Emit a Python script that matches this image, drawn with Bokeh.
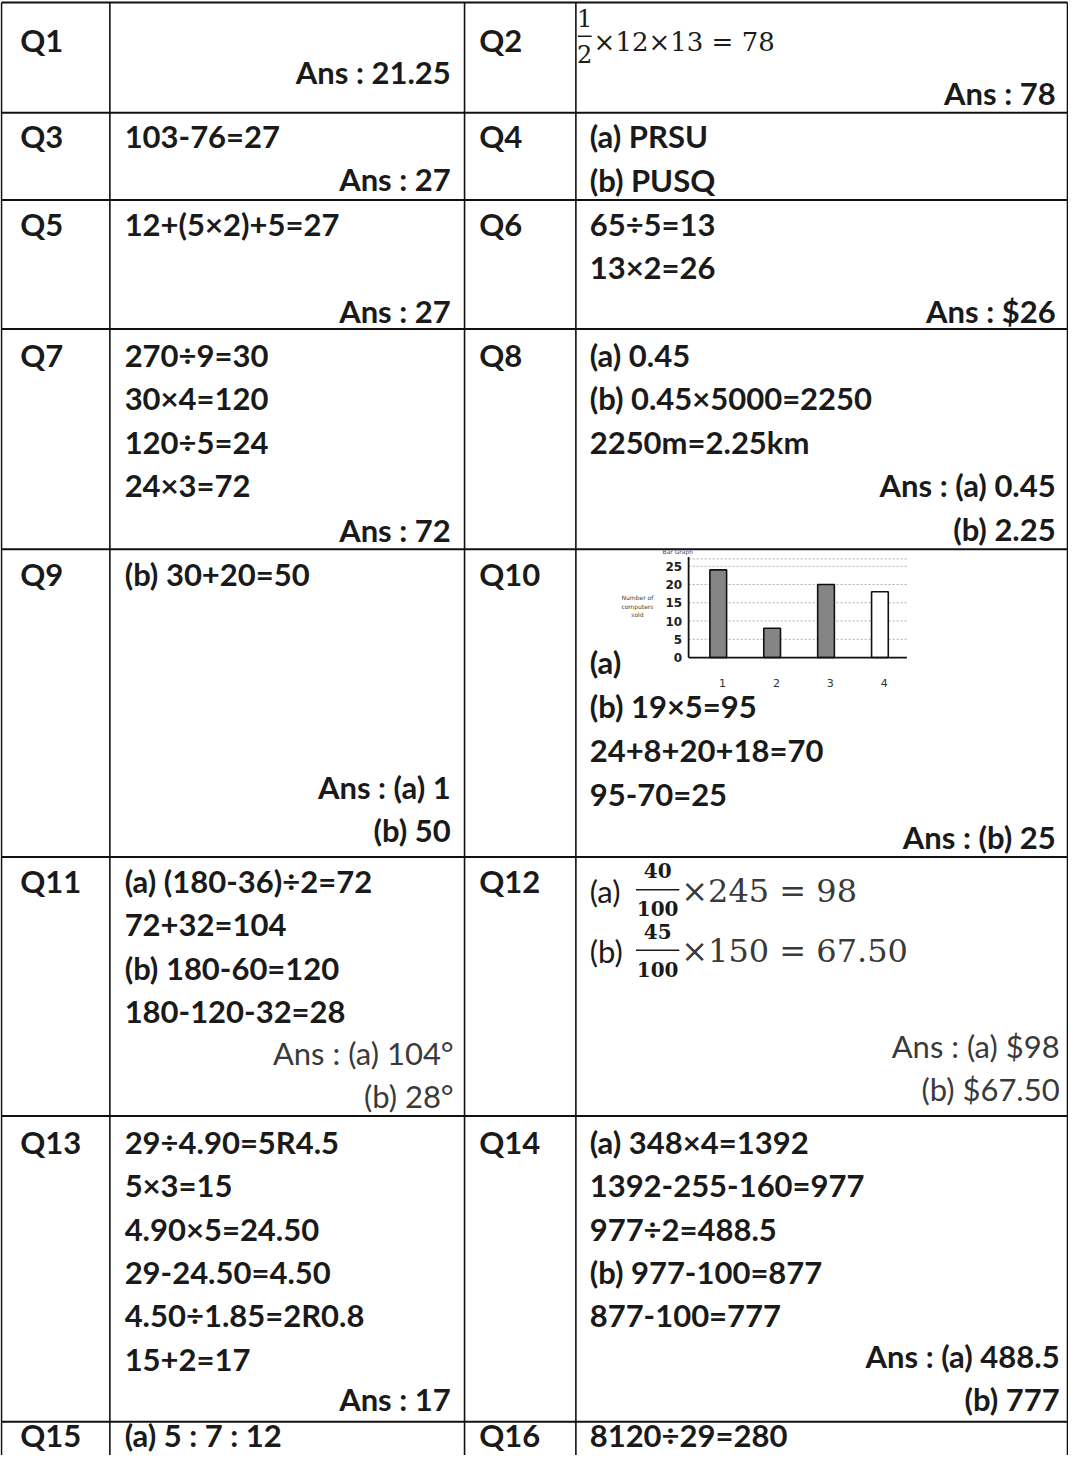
from bokeh.plotting import figure
from bokeh.models import Range1d
from bokeh.core.properties import value
from bokeh.embed import file_html
from bokeh.resources import INLINE

# ---------------- content ----------------
q_left = ["Q1", "Q3", "Q5", "Q7", "Q9", "Q11", "Q13", "Q15"]
q_right = ["Q2", "Q4", "Q6", "Q8", "Q10", "Q12", "Q14", "Q16"]

work_left = [
    [],
    ["103-76=27"],
    ["12+(5×2)+5=27"],
    ["270÷9=30", "30×4=120", "120÷5=24", "24×3=72"],
    ["(b) 30+20=50"],
    ["(a) (180-36)÷2=72", "72+32=104", "(b) 180-60=120", "180-120-32=28"],
    ["29÷4.90=5R4.5", "5×3=15", "4.90×5=24.50", "29-24.50=4.50",
     "4.50÷1.85=2R0.8", "15+2=17"],
    ["(a) 5 : 7 : 12"],
]
ans_left = [
    ["Ans : 21.25"], ["Ans : 27"], ["Ans : 27"], ["Ans : 72"],
    ["Ans : (a) 1", "(b) 50"], ["Ans : (a) 104°", "(b) 28°"], ["Ans : 17"], [],
]
work_right = [
    [],
    ["(a) PRSU", "(b) PUSQ"],
    ["65÷5=13", "13×2=26"],
    ["(a) 0.45", "(b) 0.45×5000=2250", "2250m=2.25km"],
    ["(a)", "(b) 19×5=95", "24+8+20+18=70", "95-70=25"],
    [],
    ["(a) 348×4=1392", "1392-255-160=977", "977÷2=488.5",
     "(b) 977-100=877", "877-100=777"],
    ["8120÷29=280"],
]
ans_right = [
    ["Ans : 78"], [], ["Ans : $26"], ["Ans : (a) 0.45", "(b) 2.25"],
    ["Ans : (b) 25"], ["Ans : (a) $98", "(b) $67.50"],
    ["Ans : (a) 488.5", "(b) 777"], [],
]

# Q2 / Q12 formulas (prefix, numerator, denominator, rest)
q2_formula = ("", "1", "2", "×12×13 = 78")
q12_formulas = [("(a)", "40", "100", "×245 = 98"),
                ("(b)", "45", "100", "×150 = 67.50")]

# Q10 bar chart
bar_categories = ["1", "2", "3", "4"]
computers_sold = [24, 8, 20, 18]
bar_ticks = [0, 5, 10, 15, 20, 25]
bar_title = "Bar Graph"
bar_ylabel = "Number of\ncomputers\nsold"

# ---------------- layout ----------------
W_REF, H_REF = 1084, 1466
col_x = [1, 111, 471, 584, 1083]
row_y = [2, 113, 201, 331, 553, 863, 1124, 1432]
first_line_y = [40, 137, 225, 357, 578, 887, 1150, 1445]
ans_left_last = [72, 180, 313, 533, 836, 1104, 1409, None]
ans_right_last = [93, None, 313, 532, 843, 1097, 1409, None]
right_start_override = {4: 667}
LINE = 43.7
X_QL, X_WL, X_QR, X_WR = 20, 126, 486, 598
X_AL, X_AR = 457, 1071

FONT = "Lato"
SIZE = "31px"
WEIGHT = "bold"
INK = "#1a1a1a"
LIGHT = "#3a3a3a"

p = figure(width=1068, height=1455, x_range=Range1d(0, W_REF),
           y_range=Range1d(H_REF, 0), output_backend="svg",
           toolbar_location=None, min_border=0)
p.axis.visible = False
p.grid.visible = False
p.outline_line_color = None
p.background_fill_color = "white"
p.border_fill_color = "white"

# table lines
p.segment(x0=[col_x[0]] * len(row_y), y0=row_y, x1=[col_x[-1]] * len(row_y),
          y1=row_y, line_color="#111111", line_width=2)
p.segment(x0=col_x, y0=[row_y[0]] * len(col_x), x1=col_x,
          y1=[H_REF] * len(col_x), line_color="#111111", line_width=1.6)

# collect text items
tx, ty, tt = [], [], []          # left aligned
ax, ay, at, ac, aw = [], [], [], [], []  # right aligned answers

for i in range(len(q_left)):
    tx += [X_QL, X_QR]
    ty += [first_line_y[i]] * 2
    tt += [q_left[i], q_right[i]]
    for j, s in enumerate(work_left[i]):
        tx.append(X_WL); ty.append(first_line_y[i] + j * LINE); tt.append(s)
    y0 = right_start_override.get(i, first_line_y[i])
    sp = 44.3 if i in right_start_override else LINE
    for j, s in enumerate(work_right[i]):
        tx.append(X_WR); ty.append(y0 + j * sp); tt.append(s)
    light = i == 5
    n = len(ans_left[i])
    for j, s in enumerate(ans_left[i]):
        ax.append(X_AL + (3 if light else 0))
        ay.append(ans_left_last[i] - (n - 1 - j) * LINE)
        at.append(s); ac.append(LIGHT if light else INK)
        aw.append("normal" if light else WEIGHT)
    n = len(ans_right[i])
    for j, s in enumerate(ans_right[i]):
        ax.append(X_AR + (4 if i in (5, 6) else 0))
        ay.append(ans_right_last[i] - (n - 1 - j) * LINE)
        at.append(s); ac.append(LIGHT if light else INK)
        aw.append("normal" if light else WEIGHT)

p.text(x=tx, y=ty, text=tt, text_align="left", text_baseline="middle",
       text_font=value(FONT), text_font_size=SIZE, text_font_style=WEIGHT,
       text_color=INK)
p.text(x=ax, y=ay, text=at, text_align="right", text_baseline="middle",
       text_font=value(FONT), text_font_size=SIZE, text_font_style=aw,
       text_color=ac)

# ---- Q2 formula ----
SERIF = "DejaVu Serif"
_, num, den, rest = q2_formula
p.text(x=[593, 593], y=[18, 54], text=[num, den], text_align="center",
       text_baseline="middle", text_font=value(SERIF), text_font_size="24px",
       text_color=INK)
p.segment(x0=[586], y0=[36], x1=[600], y1=[36], line_color=INK, line_width=1.5)
p.text(x=[602], y=[42], text=[rest], text_align="left", text_baseline="middle",
       text_font=value(SERIF), text_font_size="26px", text_color=INK)

# ---- Q12 formulas ----
fy = [897, 958]
for k, (pre, num, den, rest) in enumerate(q12_formulas):
    yc = fy[k]
    p.text(x=[X_WR], y=[yc], text=[pre], text_align="left", text_baseline="middle",
           text_font=value(FONT), text_font_size=SIZE, text_color=INK)
    p.text(x=[667, 667], y=[yc - 20, yc + 18], text=[num, den], text_align="center",
           text_baseline="middle", text_font=value(SERIF), text_font_size="20px",
           text_font_style="bold", text_color=INK)
    p.segment(x0=[645], y0=[yc - 1], x1=[689], y1=[yc - 1], line_color=INK,
              line_width=1.6)
    p.text(x=[691], y=[yc], text=[rest], text_align="left", text_baseline="middle",
           text_font=value(SERIF), text_font_size="32px", text_color=LIGHT)

# ---- Q10 bar chart (own ranges mapped into the cell) ----
CH_X1, CH_DX = 728.5, 54.7   # ref px of category 1, px per category
CH_Y0, CH_DY = 662.0, 3.68   # ref px of value 0, px per unit
xs_start = 1 - CH_X1 / CH_DX
ys_start = -(H_REF - CH_Y0) / CH_DY
p.extra_x_ranges = {"bar": Range1d(xs_start, xs_start + W_REF / CH_DX)}
p.extra_y_ranges = {"bar": Range1d(ys_start, ys_start + H_REF / CH_DY)}
R = dict(x_range_name="bar", y_range_name="bar")

xpos = list(range(1, len(bar_categories) + 1))
x_lo, x_hi = 0.45, len(bar_categories) + 0.5
grid_vals = bar_ticks[1:] + [bar_ticks[-1] + 2]
p.segment(x0=[x_lo] * len(grid_vals), y0=grid_vals, x1=[x_hi] * len(grid_vals),
          y1=grid_vals, line_color="#9a9a9a", line_dash="2 2", line_width=0.8, **R)
bar_fill = ["#858585"] * (len(computers_sold) - 1) + ["white"]
p.vbar(x=xpos, top=computers_sold, bottom=0, width=0.31, fill_color=bar_fill,
       line_color="#111111", line_width=1.6, **R)
p.segment(x0=[x_lo, x_lo], y0=[0, 0], x1=[x_lo, x_hi], y1=[bar_ticks[-1] + 2.5, 0],
          line_color="#111111", line_width=1.8, **R)
p.text(x=[x_lo - 0.12] * len(bar_ticks), y=bar_ticks,
       text=[str(t) for t in bar_ticks], text_align="right", text_baseline="middle",
       text_font=value("DejaVu Sans"), text_font_size="12px", text_font_style="bold",
       text_color="#222222", **R)
p.text(x=[c + 0.08 for c in xpos], y=[-7] * len(xpos), text=bar_categories,
       text_align="center", text_baseline="middle", text_font=value("DejaVu Sans"),
       text_font_size="11px", text_color="#333333", **R)
p.text(x=[x_lo - 0.2], y=[bar_ticks[-1] + 4], text=[bar_title], text_align="center",
       text_baseline="middle", text_font=value("DejaVu Sans"), text_font_size="6px",
       text_color="#444444", **R)
p.text(x=[-0.5], y=[14], text=[bar_ylabel], text_align="center",
       text_baseline="middle", text_font=value("DejaVu Sans"), text_font_size="6px",
       text_color="#444444", **R)

open("out.html", "w").write(file_html(p, INLINE))
